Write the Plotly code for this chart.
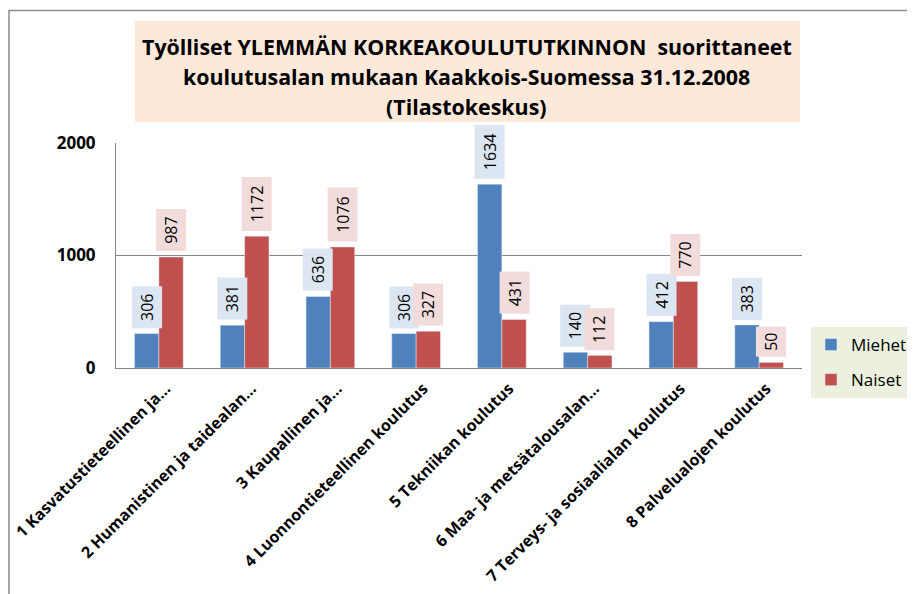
import plotly.graph_objects as go

categories = [
    "1 Kasvatustieteellinen ja…",
    "2 Humanistinen ja taidealan…",
    "3 Kaupallinen ja…",
    "4 Luonnontieteellinen koulutus",
    "5 Tekniikan koulutus",
    "6 Maa- ja metsätalousalan…",
    "7 Terveys- ja sosiaalialan koulutus",
    "8 Palvelualojen koulutus",
]
miehet = [306, 381, 636, 306, 1634, 140, 412, 383]
naiset = [987, 1172, 1076, 327, 431, 112, 770, 50]
series_names = ["Miehet", "Naiset"]
title_lines = [
    "Työlliset YLEMMÄN KORKEAKOULUTUTKINNON  suorittaneet",
    "koulutusalan mukaan Kaakkois-Suomessa 31.12.2008",
    "(Tilastokeskus)",
]
y_ticks = [0, 1000, 2000]

FONT = "Open Sans, Noto Sans, sans-serif"
OFF = 8  # page body margin
W, H = 915 - OFF, 594 - OFF
# plot area in page pixels
PL, PR, PT, PB = 116, 802, 143, 368
L, T = PL - OFF, PT - OFF
R = W - (PR - OFF)
B = H - (PB - OFF)
PW, PH = PR - PL, PB - PT


def px_x(x):
    return (x - PL) / PW


def px_y(y):
    return (PB - y) / PH


blue, red = "#4f81bd", "#c0504d"
blue_bg, red_bg = "#dce6f2", "#f2dcdb"

fig = go.Figure()
fig.add_trace(go.Bar(x=categories, y=miehet, name=series_names[0], marker_color=blue,
                     legendgroup="a"))
fig.add_trace(go.Bar(x=categories, y=naiset, name=series_names[1], marker_color=red,
                     legendgroup="b"))

annotations = []
for vals, shift, bg in [(miehet, -12.2, blue_bg), (naiset, 12.2, red_bg)]:
    for c, v in zip(categories, vals):
        n = len(str(v))
        annotations.append(dict(
            x=c, y=v, xref="x", yref="y", text=str(v), showarrow=False,
            textangle=-90, xshift=shift, yshift=5, yanchor="bottom", xanchor="center",
            bgcolor=bg, borderpad=1, width=12 * n + 3, height=27,
            font=dict(family=FONT, size=16, color="black"),
        ))

for i, line in enumerate(title_lines):
    annotations.append(dict(
        x=px_x(467), y=px_y(46 + 30 * i), xref="paper", yref="paper", text="<b>" + line + "</b>",
        showarrow=False, xanchor="center", yanchor="middle",
        font=dict(family=FONT, size=21.4, color="black"),
    ))

shapes = [
    dict(type="rect", xref="paper", yref="paper", x0=px_x(135), x1=px_x(800),
         y0=px_y(122), y1=px_y(21), fillcolor="#fde9d9", line=dict(width=0), layer="below"),
    dict(type="rect", xref="paper", yref="paper", x0=px_x(OFF + 1), x1=px_x(930),
         y0=px_y(610), y1=px_y(10.5), fillcolor="rgba(0,0,0,0)",
         line=dict(color="#8c8c8c", width=1.5), layer="below"),
]

fig.update_layout(
    width=W, height=H,
    margin=dict(l=L, r=R, t=T, b=B, autoexpand=False),
    paper_bgcolor="white", plot_bgcolor="white",
    barmode="group", bargap=0.432, bargroupgap=0,
    showlegend=True,
    legend=dict(x=px_x(811), y=px_y(327), xanchor="left", yanchor="top",
                bgcolor="#ebf1de", font=dict(family=FONT, size=17, color="black"),
                traceorder="grouped", tracegroupgap=10, itemwidth=30),
    annotations=annotations,
    shapes=shapes,
    xaxis=dict(tickangle=-45, showline=True, linecolor="#868686", linewidth=1,
               ticks="", ticklabelshift=7, ticklabelstandoff=4,
               tickfont=dict(family=FONT, size=16, color="black", weight="bold"),
               showgrid=False),
    yaxis=dict(range=[0, 2000], tickvals=y_ticks, showgrid=True, gridcolor="#868686",
               gridwidth=1, showline=True, linecolor="#868686", linewidth=1,
               zeroline=False, ticks="", ticklabelstandoff=16,
               tickfont=dict(family=FONT, size=17, color="black", weight="bold")),
)

fig.write_html("out.html")
